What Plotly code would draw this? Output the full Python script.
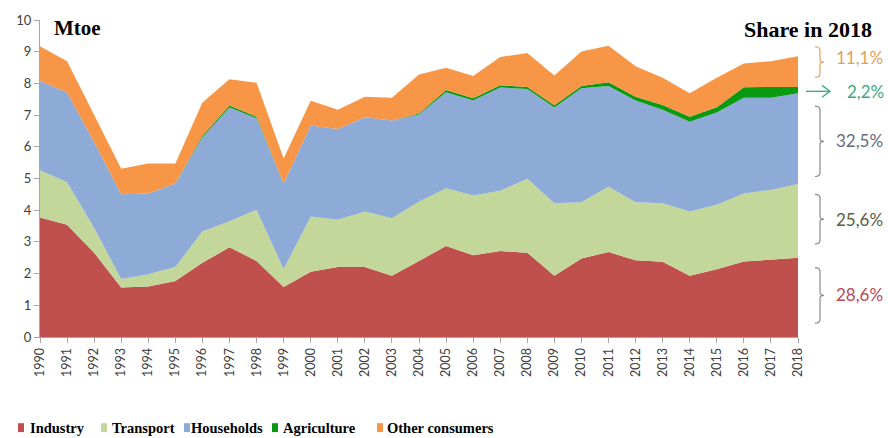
import plotly.graph_objects as go

years = list(range(1990, 2019))
industry = [3.77, 3.54, 2.66, 1.56, 1.59, 1.77, 2.34, 2.83, 2.40, 1.58,
            2.06, 2.21, 2.21, 1.93, 2.40, 2.87, 2.58, 2.71, 2.66, 1.93,
            2.48, 2.68, 2.42, 2.37, 1.93, 2.14, 2.38, 2.43, 2.50]
transport = [1.49, 1.34, 0.78, 0.27, 0.39, 0.44, 0.99, 0.82, 1.61, 0.56,
             1.74, 1.49, 1.75, 1.82, 1.87, 1.82, 1.88, 1.90, 2.33, 2.29,
             1.77, 2.06, 1.83, 1.85, 2.03, 2.03, 2.15, 2.21, 2.33]
households = [2.82, 2.83, 2.71, 2.67, 2.55, 2.63, 2.97, 3.59, 2.89, 2.70,
              2.87, 2.86, 2.97, 3.08, 2.75, 3.03, 3.00, 3.26, 2.83, 3.02,
              3.60, 3.18, 3.21, 2.95, 2.83, 2.91, 3.02, 2.91, 2.86]
agriculture = [0.0, 0.0, 0.0, 0.0, 0.0, 0.0, 0.05, 0.06, 0.05, 0.0,
               0.0, 0.0, 0.0, 0.0, 0.03, 0.07, 0.07, 0.07, 0.07, 0.07,
               0.07, 0.12, 0.12, 0.15, 0.16, 0.17, 0.33, 0.33, 0.20]
other = [1.09, 0.99, 0.85, 0.81, 0.94, 0.63, 1.05, 0.83, 1.07, 0.79,
         0.78, 0.61, 0.65, 0.72, 1.23, 0.70, 0.70, 0.89, 1.07, 0.94,
         1.09, 1.15, 0.96, 0.86, 0.74, 0.93, 0.75, 0.82, 0.97]

series_names = ["Industry", "Transport", "Households", "Agriculture", "Other consumers"]
series_colors = ["#c0504d", "#c4d79b", "#8eaad6", "#0a9a12", "#f79646"]
series_values = [industry, transport, households, agriculture, other]

shares = ["28,6%", "25,6%", "32,5%", "2,2%", "11,1%"]
share_colors = ["#b8485a", "#5c5c44", "#5f6b7d", "#3aaa80", "#e3a05a"]

W, H = 888, 438
L, R, T, B = 40, 798, 17, 337

fig = go.Figure()
for name, col, vals in zip(series_names, series_colors, series_values):
    fig.add_trace(go.Scatter(
        x=years, y=vals, name=name, mode="lines", stackgroup="one",
        line=dict(width=0, color=col), fillcolor=col, showlegend=False,
        hoverinfo="skip"))


def px(x):
    return (x - L) / (R - L)


def py(y):
    return (B - y) / (B - T)


ann = []
shapes = []

# titles
ann.append(dict(x=px(52), y=py(25), xref="paper", yref="paper", text="<b>Mtoe</b>",
                showarrow=False, xanchor="left", yanchor="middle",
                font=dict(family="Liberation Serif", size=21, color="#000")))
ann.append(dict(x=px(874), y=py(27), xref="paper", yref="paper", text="<b>Share in 2018</b>",
                showarrow=False, xanchor="right", yanchor="middle",
                font=dict(family="Liberation Serif", size=22, color="#000")))

# brackets (top, bottom) in pixels, and text centre y
brackets = {
    "Other consumers": (44, 75, 55, "#e0a060"),
    "Households": (104, 175, 139, "#8a8a8a"),
    "Transport": (193, 243, 218, "#8a8a8a"),
    "Industry": (267, 323, 294, "#8a8a8a"),
}


def brace(top, bot, color):
    mid = (top + bot) / 2
    x0, x1, x2 = 815, 820, 824
    path = (f"M {px(x0)},{py(top)} Q {px(x1)},{py(top)} {px(x1)},{py(top+4)} "
            f"L {px(x1)},{py(mid-3)} Q {px(x1)},{py(mid)} {px(x2)},{py(mid)} "
            f"Q {px(x1)},{py(mid)} {px(x1)},{py(mid+3)} "
            f"L {px(x1)},{py(bot-4)} Q {px(x1)},{py(bot)} {px(x0)},{py(bot)}")
    return dict(type="path", path=path, xref="paper", yref="paper",
                line=dict(color=color, width=1.2))


for name, share, scol in zip(series_names, shares, share_colors):
    if name in brackets:
        top, bot, ty, bcol = brackets[name]
        shapes.append(brace(top, bot, bcol))
        ann.append(dict(x=px(834), y=py(ty), xref="paper", yref="paper", text=share,
                        showarrow=False, xanchor="left", yanchor="middle",
                        font=dict(family="Lato", size=17, color=scol)))
    else:
        shapes.append(dict(type="line", xref="paper", yref="paper",
                           x0=px(806), y0=py(89), x1=px(830), y1=py(89),
                           line=dict(color=scol, width=1.3)))
        shapes.append(dict(type="path", xref="paper", yref="paper",
                           path=f"M {px(822)},{py(83)} L {px(830)},{py(89)} L {px(822)},{py(95)}",
                           line=dict(color=scol, width=1.3)))
        ann.append(dict(x=px(845), y=py(89), xref="paper", yref="paper", text=share,
                        showarrow=False, xanchor="left", yanchor="middle",
                        font=dict(family="Lato", size=17, color=scol)))

# legend built from annotations
leg_sq_x = [18, 101, 184, 272, 377]
leg_tx_x = [28, 110, 189, 281, 385]
for name, col, sx, tx in zip(series_names, series_colors, leg_sq_x, leg_tx_x):
    shapes.append(dict(type="rect", xref="paper", yref="paper",
                       x0=px(sx), x1=px(sx + 6), y0=py(433), y1=py(424),
                       fillcolor=col, line=dict(width=0)))
    ann.append(dict(x=px(tx), y=py(429), xref="paper", yref="paper", text=f"<b>{name}</b>",
                    showarrow=False, xanchor="left", yanchor="middle",
                    font=dict(family="Liberation Serif", size=14.5, color="#000")))

fig.update_layout(
    width=W, height=H,
    margin=dict(l=L, r=W - R, t=T, b=H - B),
    paper_bgcolor="white", plot_bgcolor="white",
    xaxis=dict(range=[1990, 2018], tickvals=years, ticktext=[str(y) for y in years],
               tickangle=-90, showgrid=False, zeroline=False,
               showline=True, linecolor="#a6a6a6", linewidth=1,
               ticks="outside", ticklen=5, tickcolor="#a6a6a6",
               tickfont=dict(family="Lato", size=12.5, color="#404040")),
    yaxis=dict(range=[0, 10], dtick=1, showgrid=False, zeroline=False,
               showline=True, linecolor="#a6a6a6", linewidth=1,
               ticks="outside", ticklen=5, tickcolor="#a6a6a6",
               tickfont=dict(family="Lato", size=13, color="#404040")),
    annotations=ann, shapes=shapes,
    showlegend=False,
)

fig.write_html("out.html", config={"displayModeBar": False},
               post_script="document.body.style.margin='0';")
